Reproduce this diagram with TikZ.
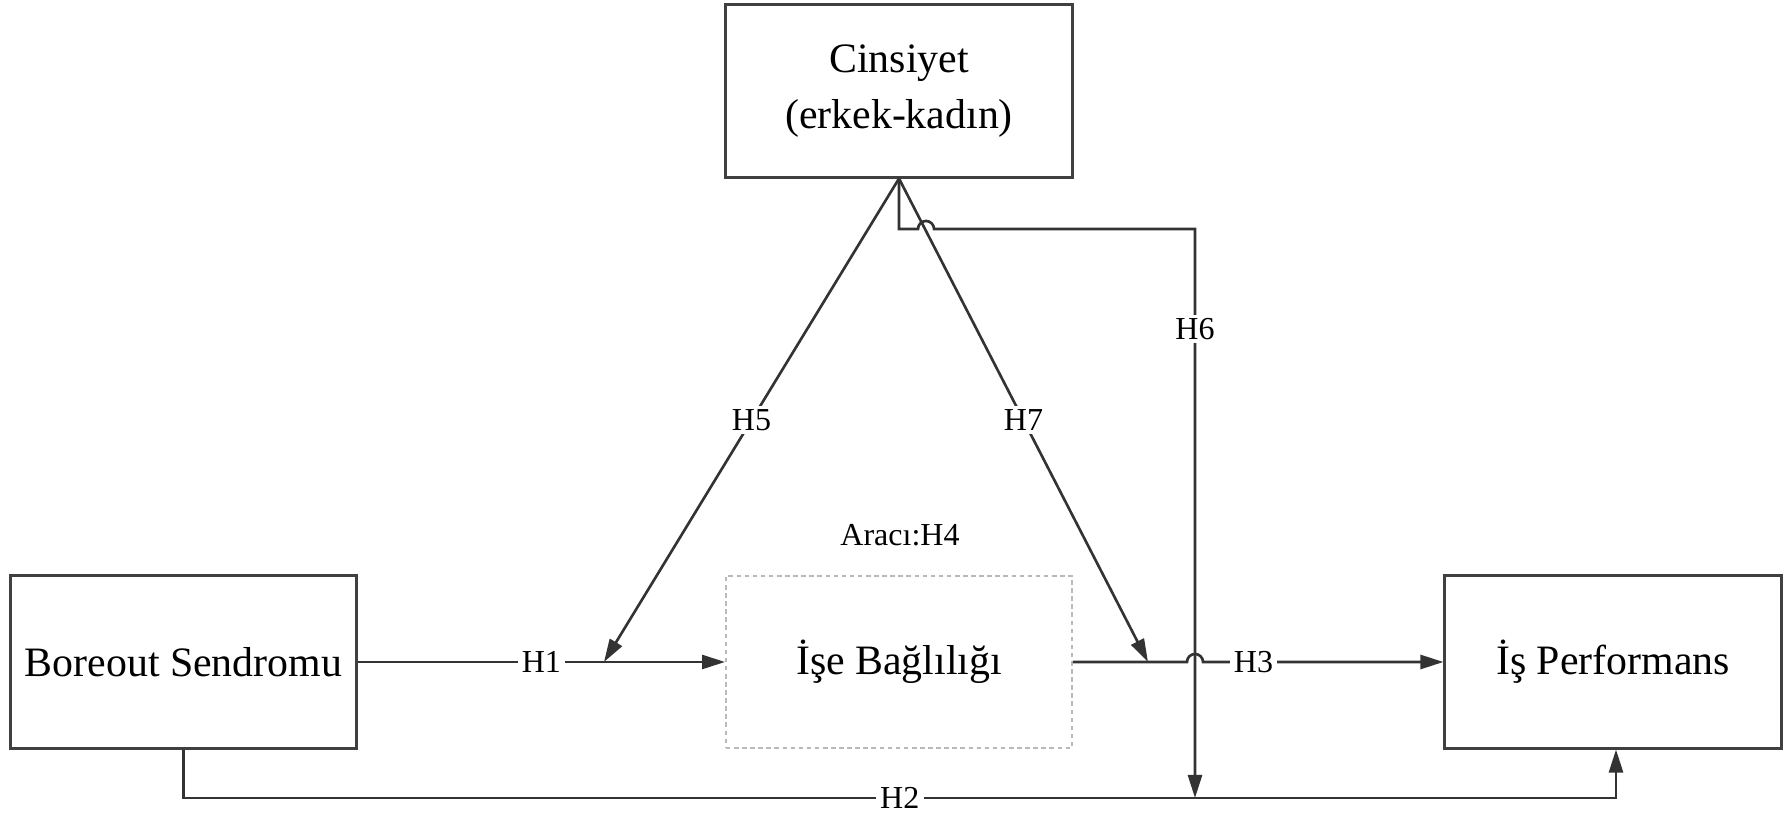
\documentclass[tikz,border=0pt]{standalone}
\usepackage{fontspec}
\setmainfont{Liberation Serif}
\usetikzlibrary{arrows.meta}
\begin{document}
\begin{tikzpicture}[x=0.01cm,y=-0.01cm,
  box/.style={draw=black!75, line width=0.85pt, inner sep=0pt,
    minimum height=1.72cm, align=center,
    font=\fontsize{11.9pt}{16pt}\selectfont},
  midbox/.style={draw=gray!55, line width=0.5pt, dash pattern=on 1.3pt off 1pt,
    inner sep=0pt, minimum width=3.46cm, minimum height=1.72cm,
    font=\fontsize{11.9pt}{16pt}\selectfont},
  conn/.style={draw=black!80, line width=0.75pt},
  arr/.style={-{Triangle[length=0.23cm,width=0.14cm]}},
  hlabel/.style={fill=white, inner xsep=1.2pt, inner ysep=1pt, text=black,
    font=\fontsize{9.1pt}{11pt}\selectfont},
  note/.style={inner sep=0pt, font=\fontsize{9.1pt}{11pt}\selectfont}]
\useasboundingbox (0,0) rectangle (1787,819);

% boxes
\node[box, minimum width=3.46cm] (cins) at (899,91) {Cinsiyet\\(erkek-kadın)};
\node[box, minimum width=3.45cm] (bore) at (183.5,662) {Boreout Sendromu};
\node[midbox] (bag) at (899,662) {İşe Bağlılığı};
\node[box, minimum width=3.36cm] (perf) at (1613,662) {İş Performans};
\node[note] (h4) at (900,535) {Aracı:H4};

% points where the moderator arrows meet the main paths
\coordinate (h5end) at (604,662);
\coordinate (h7end) at (1148,662);
% H6 route
\coordinate (h6a) at (899,229);
\coordinate (h6j) at (918,229);
\coordinate (h6b) at (1195,229);
\coordinate (h6end) at (1195,798);
% H3 jump over the H6 line
\coordinate (h3j) at (1187,662);
% H2 route
\coordinate (h2a) at (183.5,798);
\coordinate (h2b) at (1616,798);

% H1
\draw[conn,arr] (bore.east) -- node[hlabel] {H1} (bag.west);
% H3 with a line jump
\draw[conn,arr] (bag.east) -- (h3j) arc[start angle=180, end angle=0, radius=0.08cm]
  -- node[hlabel, pos=0.21] {H3} (perf.west);
% H5 and H7
\draw[conn,arr] (cins.south) -- node[hlabel] {H5} (h5end);
\draw[conn,arr] (cins.south) -- node[hlabel] {H7} (h7end);
% H6 with a line jump over H7
\draw[conn,arr] (cins.south) -- (h6a) -- (h6j) arc[start angle=180, end angle=0, radius=0.08cm]
  -- (h6b) -- node[hlabel, pos=0.176] {H6} (h6end);
% H2
\draw[conn,arr] (bore.south) -- (h2a) -- node[hlabel] {H2} (h2b |- h2a) -- (perf.south -| h2b);
\end{tikzpicture}
\end{document}
